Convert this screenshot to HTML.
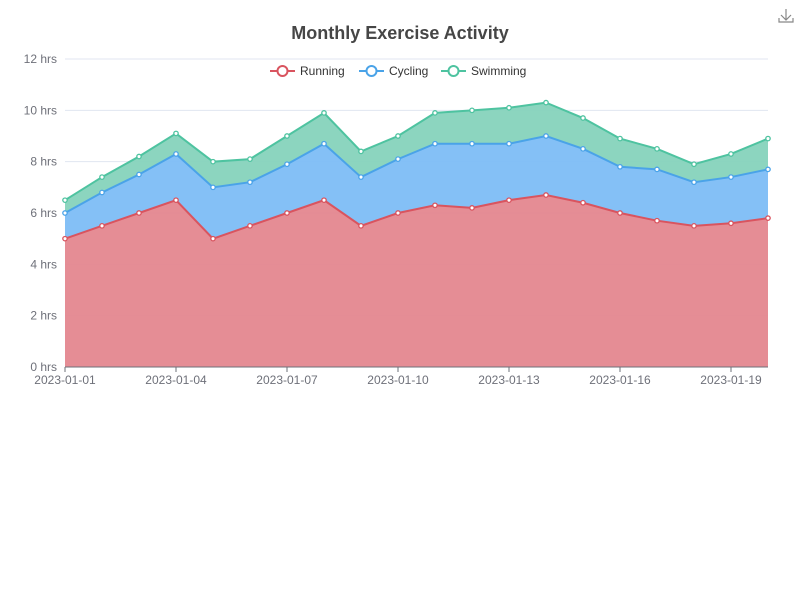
<!DOCTYPE html>
<html><head><meta charset="utf-8"><style>
body{margin:0;background:#fff;font-family:"Liberation Sans",sans-serif}
svg{display:block}
</style></head><body>
<svg id="chart" width="800" height="600">
<text x="400" y="39" text-anchor="middle" font-size="18" font-weight="bold" fill="#464646">Monthly Exercise Activity</text>
<g stroke="#888" fill="none" stroke-width="1.2">
<path d="M786 9v11M781 15l5 5 5-5M779 18v4h14v-4"/>
</g>
<g id="grid"></g><g id="areas"></g><g id="axes"></g><g id="legend"></g>
</svg>
<script>
const categories=["2023-01-01","2023-01-02","2023-01-03","2023-01-04","2023-01-05","2023-01-06","2023-01-07","2023-01-08","2023-01-09","2023-01-10","2023-01-11","2023-01-12","2023-01-13","2023-01-14","2023-01-15","2023-01-16","2023-01-17","2023-01-18","2023-01-19","2023-01-20"];
const running=[5.0,5.5,6.0,6.5,5.0,5.5,6.0,6.5,5.5,6.0,6.3,6.2,6.5,6.7,6.4,6.0,5.7,5.5,5.6,5.8];
const cycling=[1.0,1.3,1.5,1.8,2.0,1.7,1.9,2.2,1.9,2.1,2.4,2.5,2.2,2.3,2.1,1.8,2.0,1.7,1.8,1.9];
const swimming=[0.5,0.6,0.7,0.8,1.0,0.9,1.1,1.2,1.0,0.9,1.2,1.3,1.4,1.3,1.2,1.1,0.8,0.7,0.9,1.2];
const yTicks=[0,2,4,6,8,10,12];
const seriesNames=["Running","Cycling","Swimming"];
const NS="http://www.w3.org/2000/svg";
const X0=65,X1=768,Y0=367,Y1=59,YMAX=12;
const xs=i=>X0+i*(X1-X0)/(categories.length-1);
const ys=v=>Y0-v*(Y0-Y1)/YMAX;
function mk(tag,attrs,parent){const e=document.createElementNS(NS,tag);for(const k in attrs)e.setAttribute(k,attrs[k]);parent.appendChild(e);return e;}
const grid=document.getElementById('grid'),axes=document.getElementById('axes'),areas=document.getElementById('areas'),legend=document.getElementById('legend');
yTicks.forEach(t=>{
 const l=mk('line',{x1:X0,x2:X1,y1:ys(t),y2:ys(t),stroke:'#e0e6f1'},grid);
 
 
 const tx=mk('text',{x:57,y:ys(t)+4,'text-anchor':'end','font-size':12,fill:'#6e7079'},axes);
 tx.textContent=t+' hrs';
 
 
});
const colors=[["#d9545f","#e4878f"],["#4aa3e8","#7dbdf5"],["#4ec3a0","#86d3bc"]];
const data=[running,cycling,swimming];
let base=categories.map(()=>0);
const tops=[];
data.forEach((s,k)=>{const top=s.map((v,i)=>base[i]+v);tops.push([base.slice(),top]);base=top;});
tops.forEach(([b,t],k)=>{
 let d='M'+categories.map((c,i)=>xs(i)+','+ys(t[i])).join('L');
 for(let i=categories.length-1;i>=0;i--)d+='L'+xs(i)+','+ys(b[i]);
 const a=mk('path',{d:d+'Z',fill:colors[k][1],opacity:0.95},areas);
 
 
});
tops.forEach(([b,t],k)=>{
 const ln=mk('polyline',{points:categories.map((c,i)=>xs(i)+','+ys(t[i])).join(' '),fill:'none',stroke:colors[k][0],'stroke-width':2},areas);
 
 
 categories.forEach((c,i)=>{
  const p=mk('circle',{cx:xs(i),cy:ys(t[i]),r:2.2,fill:'#fff',stroke:colors[k][0],'stroke-width':1.3},areas);
  
  
 });
});
mk('line',{x1:X0,x2:X1,y1:Y0,y2:Y0,stroke:'#6e7079'},axes);
categories.forEach((c,i)=>{
 if(i%3)return;
 mk('line',{x1:xs(i),x2:xs(i),y1:Y0,y2:Y0+5,stroke:'#6e7079'},axes);
 const tx=mk('text',{x:xs(i),y:Y0+17,'text-anchor':'middle','font-size':12,fill:'#6e7079'},axes);
 tx.textContent=c;
 
 
});
const lx=[270,359,441];
seriesNames.forEach((n,k)=>{
 const g=mk('g',{},legend);
 
 
 mk('line',{x1:lx[k],x2:lx[k]+25,y1:71,y2:71,stroke:colors[k][0],'stroke-width':2},g);
 mk('circle',{cx:lx[k]+12.5,cy:71,r:5,fill:'#fff',stroke:colors[k][0],'stroke-width':2},g);
 const tx=mk('text',{x:lx[k]+30,y:75,'font-size':12,fill:'#333'},g);
 tx.textContent=n;
});
</script>
</body></html>
